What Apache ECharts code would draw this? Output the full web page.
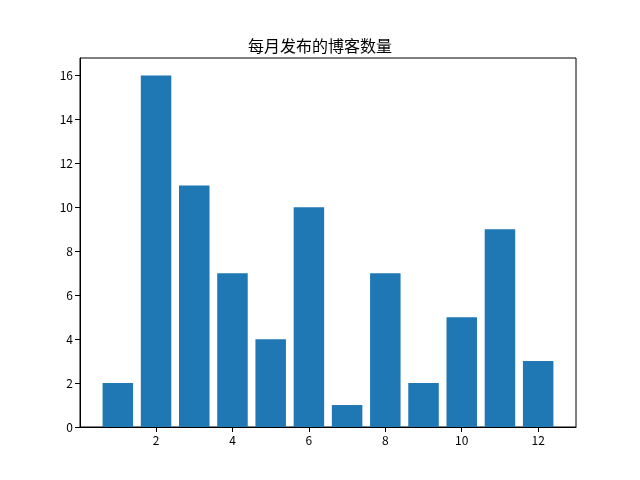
<!DOCTYPE html>
<html>
<head>
<meta charset="utf-8">
<script src="https://cdn.jsdelivr.net/npm/echarts@6/dist/echarts.min.js"></script>
<style>
  html, body { margin: 0; padding: 0; background: #fff; }
  #main { width: 640px; height: 480px; }
</style>
</head>
<body>
<div id="main"></div>
<script>
// 月份和每月的博客数量
var months = [1, 2, 3, 4, 5, 6, 7, 8, 9, 10, 11, 12];
var counts = [2, 16, 11, 7, 4, 10, 1, 7, 2, 5, 9, 3];
var xTicks = [2, 4, 6, 8, 10, 12];

var data = [];
for (var i in months) {
    data.push([months[i], counts[i]]);
}

var myChart = echarts.init(document.getElementById('main'));

var font = '"Noto Sans CJK SC", "DejaVu Sans", sans-serif';

var option = {
    animation: false,
    backgroundColor: '#fff',
    title: {
        text: '每月发布的博客数量',
        left: 'center',
        top: 33,
        textStyle: { fontFamily: font, fontSize: 16, fontWeight: 'normal', color: '#000' }
    },
    grid: { left: 80, right: 64, top: 58, bottom: 53, show: true, borderColor: '#000', borderWidth: 1 },
    xAxis: {
        type: 'value',
        min: 0.01,
        max: 12.99,
        splitLine: { show: false },
        axisLine: { show: true, onZero: false, lineStyle: { color: '#000' } },
        axisTick: { show: true, length: 5, customValues: xTicks, lineStyle: { color: '#000' } },
        axisLabel: { customValues: xTicks, color: '#000', fontSize: 12, fontFamily: font, margin: 7 }
    },
    yAxis: {
        type: 'value',
        min: 0,
        max: 16.8,
        interval: 2,
        splitLine: { show: false },
        axisLine: { show: true, lineStyle: { color: '#000' } },
        axisTick: { show: true, length: 5, lineStyle: { color: '#000' } },
        axisLabel: {
            color: '#000', fontSize: 12, fontFamily: font, margin: 7,
            showMaxLabel: false,
            formatter: function (v) { return v > 16 ? '' : v; }
        }
    },
    series: [{
        type: 'bar',
        data: data,
        barWidth: 30.5,
        itemStyle: { color: '#1f77b4' }
    }]
};

myChart.setOption(option);
</script>
</body>
</html>
